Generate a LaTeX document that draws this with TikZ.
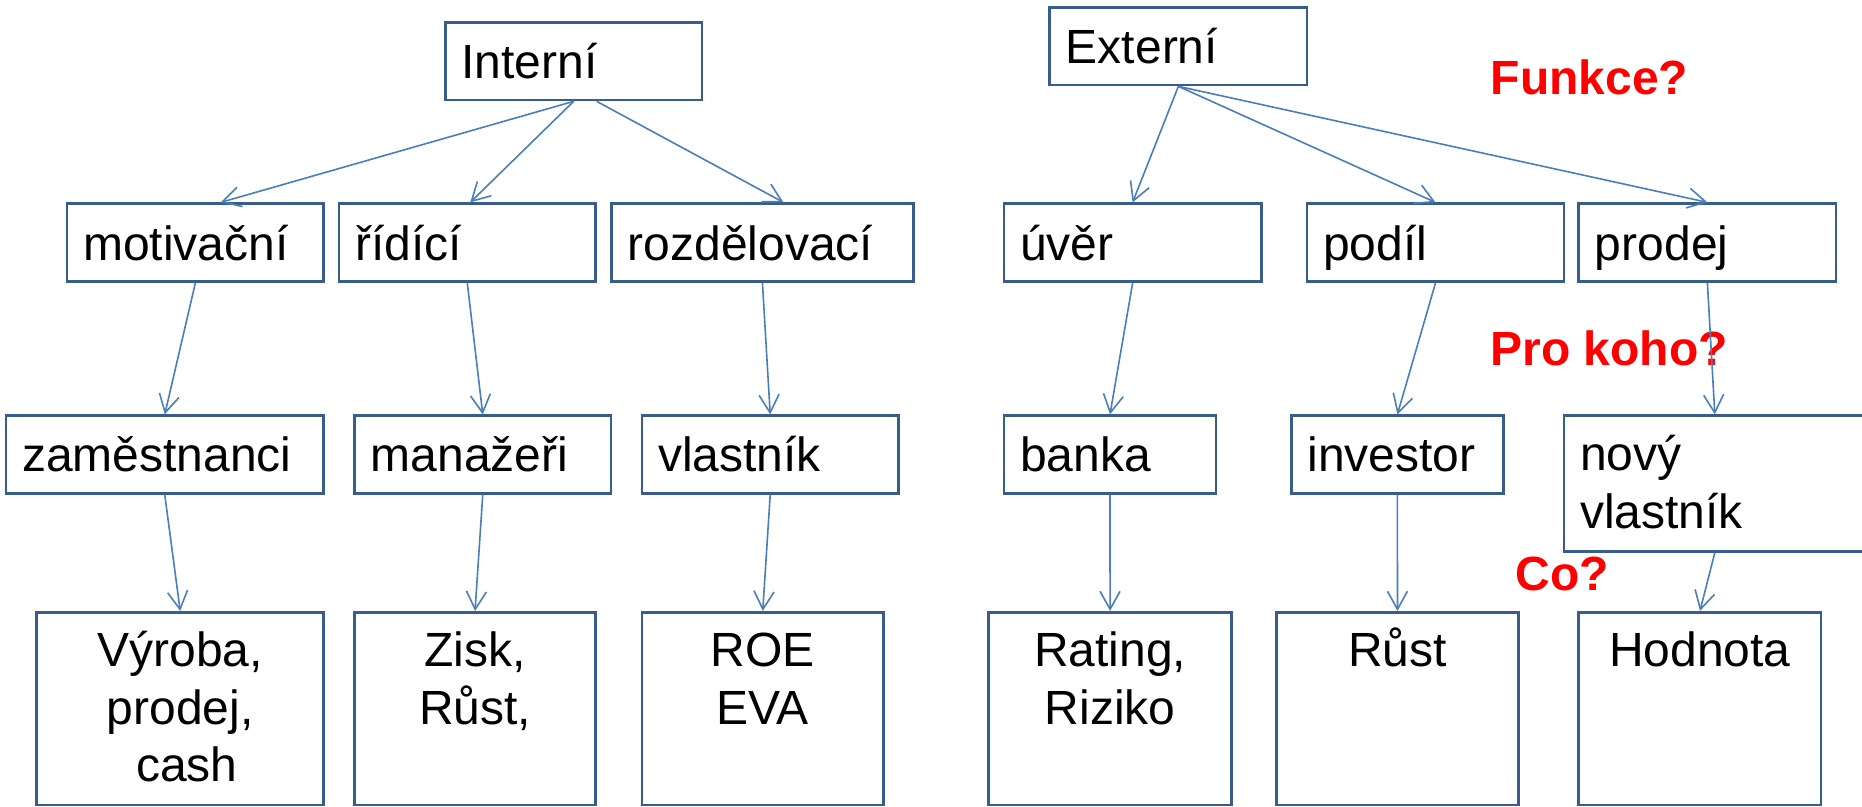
\documentclass[tikz,border=0pt]{standalone}
\usepackage{fontspec}
\setmainfont{Liberation Sans}
\usetikzlibrary{arrows.meta}
\definecolor{boxline}{HTML}{385D8A}
\definecolor{arrowline}{HTML}{4A7EBB}
\definecolor{askred}{HTML}{FF0000}
\tikzset{
  box/.style={draw=boxline, line width=2.7pt, rectangle, inner sep=0pt, fill=white},
  conn/.style={draw=arrowline, line width=1.6pt, -{Straight Barb[length=18pt,width=20pt]}},
  lbl/.style={inner sep=0pt, anchor=base west, font=\fontsize{48}{57.5}\selectfont},
  stack/.style={inner sep=0pt, anchor=north, align=center, font=\fontsize{48}{57.5}\selectfont},
  ask/.style={inner sep=0pt, anchor=base west, text=askred, font=\fontsize{48}{57.5}\selectfont\bfseries},
}
\newcommand{\firstline}{\rule{0pt}{44pt}}
\begin{document}
\begin{tikzpicture}[x=1pt, y=-1pt]
\useasboundingbox (0,0) rectangle (1862,806);
\fill[white] (0,0) rectangle (1862,806);

% top level
\node[box, minimum width=256.5pt, minimum height=77.3pt] (interni) at (573.65,61.35) {};
\node[box, minimum width=257.1pt, minimum height=77.7pt] (externi) at (1178.35,46.15) {};

% functions
\node[box, minimum width=256.5pt, minimum height=78pt] (motiv) at (195.35,242.7) {};
\node[box, minimum width=256.6pt, minimum height=78pt] (ridici) at (467.3,242.7) {};
\node[box, minimum width=301.7pt, minimum height=78pt] (rozd) at (762.45,242.7) {};
\node[box, minimum width=257.2pt, minimum height=78pt] (uver) at (1132.6,242.7) {};
\node[box, minimum width=257.1pt, minimum height=78pt] (podil) at (1435.45,242.7) {};
\node[box, minimum width=257.2pt, minimum height=78pt] (prodej) at (1707.4,242.7) {};

% stakeholders
\node[box, minimum width=317.7pt, minimum height=77.6pt] (zam) at (164.75,454.5) {};
\node[box, minimum width=256.5pt, minimum height=77.6pt] (man) at (482.75,454.5) {};
\node[box, minimum width=256.6pt, minimum height=77.6pt] (vl) at (770.2,454.5) {};
\node[box, minimum width=212pt, minimum height=77.6pt] (banka) at (1110,454.5) {};
\node[box, minimum width=212pt, minimum height=77.6pt] (investor) at (1397.4,454.5) {};
\node[box, minimum width=301.6pt, minimum height=135.6pt] (novy) at (1714.8,483.5) {};

% measures
\node[box, minimum width=286.8pt, minimum height=192.7pt] (vyr) at (180.2,708.65) {};
\node[box, minimum width=241.1pt, minimum height=192.7pt] (zisk) at (475.05,708.65) {};
\node[box, minimum width=241.7pt, minimum height=192.7pt] (roe) at (762.75,708.65) {};
\node[box, minimum width=242.9pt, minimum height=192.7pt] (rating) at (1110.05,708.65) {};
\node[box, minimum width=241.7pt, minimum height=192.7pt] (rust) at (1397.45,708.65) {};
\node[box, minimum width=242.3pt, minimum height=192.7pt] (hodn) at (1699.95,708.65) {};

% box texts
\node[lbl] (tinterni) at ([xshift=17.3pt, yshift=-17.3pt]interni.west) {Interní};
\node[lbl] (texterni) at ([xshift=17.3pt, yshift=-17.3pt]externi.west) {Externí};
\node[lbl] (tmotiv) at ([xshift=17.3pt, yshift=-17.3pt]motiv.west) {motivační};
\node[lbl] (tridici) at ([xshift=17.3pt, yshift=-17.3pt]ridici.west) {řídící};
\node[lbl] (trozd) at ([xshift=17.3pt, yshift=-17.3pt]rozd.west) {rozdělovací};
\node[lbl] (tuver) at ([xshift=17.3pt, yshift=-17.3pt]uver.west) {úvěr};
\node[lbl] (tpodil) at ([xshift=17.3pt, yshift=-17.3pt]podil.west) {podíl};
\node[lbl] (tprodej) at ([xshift=17.3pt, yshift=-17.3pt]prodej.west) {prodej};
\node[lbl] (tzam) at ([xshift=17.3pt, yshift=-17.3pt]zam.west) {zaměstnanci};
\node[lbl] (tman) at ([xshift=17.3pt, yshift=-17.3pt]man.west) {manažeři};
\node[lbl] (tvl) at ([xshift=17.3pt, yshift=-17.3pt]vl.west) {vlastník};
\node[lbl] (tbanka) at ([xshift=17.3pt, yshift=-17.3pt]banka.west) {banka};
\node[lbl] (tinvestor) at ([xshift=17.3pt, yshift=-17.3pt]investor.west) {investor};
\node[inner sep=0pt, anchor=north west, align=left, font=\fontsize{48}{58.4}\selectfont]
  (tnovy) at ([xshift=17.3pt, yshift=-11.6pt]novy.north west) {\firstline nový\\vlastník};

\node[stack] (tvyr) at ([yshift=-11.7pt]vyr.north) {\firstline Výroba,\\prodej,\\\hspace*{13pt}cash};
\node[stack] (tzisk) at ([yshift=-11.7pt]zisk.north) {\firstline Zisk,\\Růst,};
\node[stack] (troe) at ([yshift=-11.7pt]roe.north) {\firstline ROE\\EVA};
\node[stack] (trating) at ([yshift=-11.7pt]rating.north) {\firstline Rating,\\Riziko};
\node[stack] (trust) at ([yshift=-11.7pt]rust.north) {\firstline Růst};
\node[stack] (thodn) at ([yshift=-11.7pt]hodn.north) {\firstline Hodnota};

% questions
\node[ask] (funkce) at (1490.5,94.3) {Funkce?};
\node[ask] (prokoho) at (1490.4,365.7) {Pro koho?};
\node[ask] (co) at (1515.3,590.7) {Co?};

% connectors
\draw[conn] (interni.south) -- ([xshift=25.5pt]motiv.north);
\draw[conn] (interni.south) -- ([xshift=3pt]ridici.north);
\draw[conn] ([xshift=23pt]interni.south) -- ([xshift=21pt]rozd.north);
\draw[conn] (motiv.south) -- (zam.north);
\draw[conn] (ridici.south) -- (man.north);
\draw[conn] (rozd.south) -- (vl.north);
\draw[conn] (zam.south) -- (vyr.north);
\draw[conn] (man.south) -- (zisk.north);
\draw[conn] (vl.south) -- (roe.north);

\draw[conn] (externi.south) -- (uver.north);
\draw[conn] (externi.south) -- (podil.north);
\draw[conn] (externi.south) -- (prodej.north);
\draw[conn] (uver.south) -- (banka.north);
\draw[conn] (podil.south) -- (investor.north);
\draw[conn] (prodej.south) -- (novy.north);
\draw[conn] (banka.south) -- (rating.north);
\draw[conn] (investor.south) -- (rust.north);
\draw[conn] (novy.south) -- (hodn.north);
\end{tikzpicture}
\end{document}
